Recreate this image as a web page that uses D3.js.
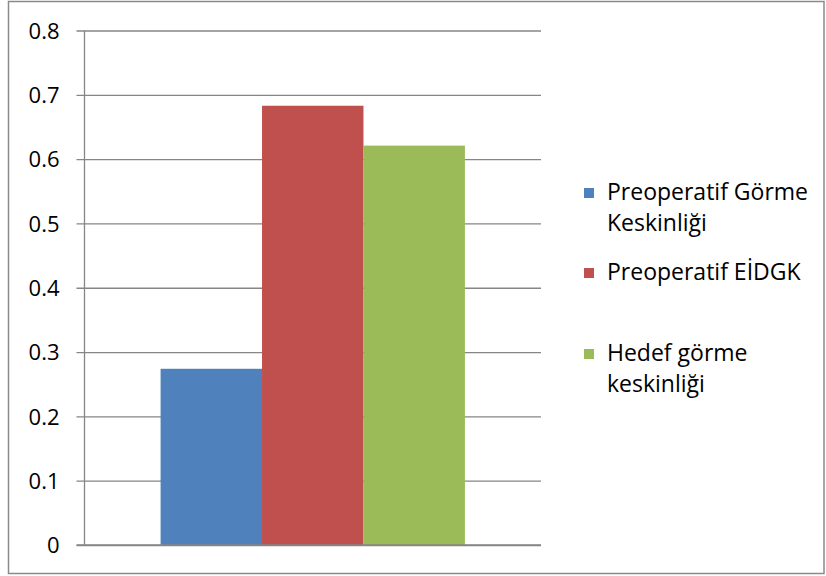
<!DOCTYPE html>
<html>
<head>
<meta charset="utf-8">
<script src="https://cdn.jsdelivr.net/npm/d3@7/dist/d3.min.js"></script>
<style>
  html, body { margin: 0; padding: 0; background: #fff; }
  svg { display: block; }
  text { font-family: "Open Sans", "Noto Sans", sans-serif; fill: #000; }
</style>
</head>
<body>
<svg id="chart" width="826" height="576"></svg>
<script>
// Series (one category, three bars)
const seriesNames = [
  ["Preoperatif Görme", "Keskinliği"],
  ["Preoperatif EİDGK"],
  ["Hedef görme", "keskinliği"]
];
const seriesValues = [0.274, 0.683, 0.621];
const seriesColors = ["#4F81BD", "#C0504D", "#9BBB59"];
const yTicks = [0, 0.1, 0.2, 0.3, 0.4, 0.5, 0.6, 0.7, 0.8];
const categories = ["1"];

const svg = d3.select("#chart");

// outer frame
svg.append("rect")
  .attr("x", 8.5).attr("y", 1.5)
  .attr("width", 815.5).attr("height", 572)
  .attr("fill", "#fff").attr("stroke", "#8a8a8a").attr("stroke-width", 1.5);

const plot = { left: 84.5, right: 541, top: 30.5, bottom: 545 };

const y = d3.scaleLinear().domain([0, 0.8]).range([plot.bottom, plot.top]);
const x0 = d3.scaleBand().domain(categories).range([plot.left, plot.right]).paddingInner(0).paddingOuter(0.25);
const x1 = d3.scaleBand().domain(d3.range(seriesValues.length)).range([0, x0.bandwidth()]).padding(0);

// gridlines + tick labels via d3.axisLeft
const yAxis = d3.axisLeft(y)
  .tickValues(yTicks)
  .tickSize(-(plot.right - plot.left))
  .tickPadding(25)
  .tickFormat(d => d === 0 ? "0" : d3.format(".1f")(d));

const gAxis = svg.append("g")
  .attr("transform", `translate(${plot.left},0)`)
  .call(yAxis);
gAxis.select(".domain").remove();
gAxis.selectAll(".tick line")
  .attr("x1", -8)
  .attr("stroke", "#868686").attr("stroke-width", 1.3);
gAxis.selectAll(".tick text")
  .style("font-size", "22px")
  .attr("dy", "0.35em");

// vertical axis line
svg.append("line")
  .attr("x1", plot.left).attr("x2", plot.left)
  .attr("y1", plot.top).attr("y2", plot.bottom)
  .attr("stroke", "#868686").attr("stroke-width", 1.3);

// bars
svg.append("g").selectAll("rect")
  .data(seriesValues)
  .join("rect")
  .attr("x", (d, i) => x0(categories[0]) + x1(i))
  .attr("width", x1.bandwidth())
  .attr("y", d => y(d))
  .attr("height", d => y(0) - y(d))
  .attr("fill", (d, i) => seriesColors[i]);

// zero baseline on top of bars
svg.append("line")
  .attr("x1", plot.left - 8).attr("x2", plot.right)
  .attr("y1", y(0)).attr("y2", y(0))
  .attr("stroke", "#868686").attr("stroke-width", 1.3);

// legend
const legendRows = [192, 272, 353];
const lineGap = 31;
const legend = svg.append("g");
seriesNames.forEach((lines, i) => {
  const cy = legendRows[i];
  legend.append("rect")
    .attr("x", 584).attr("y", cy - 4)
    .attr("width", 10).attr("height", 10)
    .attr("fill", seriesColors[i]);
  lines.forEach((t, j) => {
    legend.append("text")
      .attr("x", 607).attr("y", cy + j * lineGap)
      .attr("dy", "0.35em")
      .style("font-size", "23px")
      .text(t);
  });
});
</script>
</body>
</html>
